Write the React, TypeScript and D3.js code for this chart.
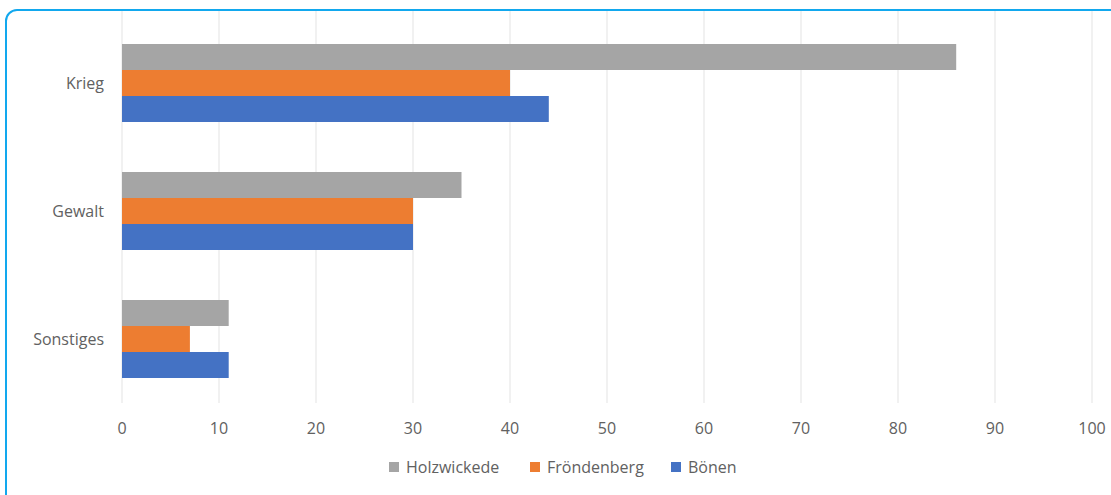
import React from "react";
import * as d3 from "d3";

const categories = ["Krieg", "Gewalt", "Sonstiges"];
const seriesNames = ["Holzwickede", "Fröndenberg", "Bönen"];
const holzwickede = [86, 35, 11];
const froendenberg = [40, 30, 7];
const boenen = [44, 30, 11];
const xTicks = [0, 10, 20, 30, 40, 50, 60, 70, 80, 90, 100];
const colors = ["#A5A5A5", "#ED7D31", "#4472C4"];

const W = 1111;
const H = 495;
const font = "'Open Sans', sans-serif";
const textColor = "#616161";

export default function App() {
  const x = d3.scaleLinear().domain([0, 100]).range([122, 1092]);
  const y = d3.scaleBand<string>().domain(categories).range([19, 403]).paddingInner(50 / 128).paddingOuter(25 / 128);
  const inner = d3.scaleBand<string>().domain(seriesNames).range([0, y.bandwidth()]);
  const series = [holzwickede, froendenberg, boenen];
  const legendX = [389, 530, 671];

  return (
    <svg width={W} height={H} style={{ position: "absolute", left: 0, top: 0 }}>
      <rect x={0} y={0} width={W} height={H} fill="#fff" />
      <rect x={6} y={10} width={W + 20} height={H + 20} rx={11} fill="#fff" stroke="#12A8EE" strokeWidth={2} />
      {xTicks.map((t) => (
        <line key={t} x1={x(t)} x2={x(t)} y1={11} y2={403} stroke="#E3E3E3" strokeWidth={1} />
      ))}
      {categories.map((c, ci) =>
        seriesNames.map((s, si) => (
          <rect
            key={c + s}
            x={x(0)}
            y={(y(c) as number) + (inner(s) as number)}
            width={x(series[si][ci]) - x(0)}
            height={inner.bandwidth()}
            fill={colors[si]}
          />
        ))
      )}
      {categories.map((c) => (
        <text
          key={c}
          x={104}
          y={(y(c) as number) + y.bandwidth() / 2}
          textAnchor="end"
          dominantBaseline="central"
          fontFamily={font}
          fontSize={16}
          fill={textColor}
        >
          {c}
        </text>
      ))}
      {xTicks.map((t) => (
        <text key={t} x={x(t)} y={428} textAnchor="middle" dominantBaseline="central" fontFamily={font} fontSize={16} fill={textColor}>
          {t}
        </text>
      ))}
      {seriesNames.map((s, i) => (
        <g key={s}>
          <rect x={legendX[i]} y={462} width={10} height={10} fill={colors[i]} />
          <text x={legendX[i] + 17} y={467} dominantBaseline="central" fontFamily={font} fontSize={16} fill={textColor}>
            {s}
          </text>
        </g>
      ))}
    </svg>
  );
}
